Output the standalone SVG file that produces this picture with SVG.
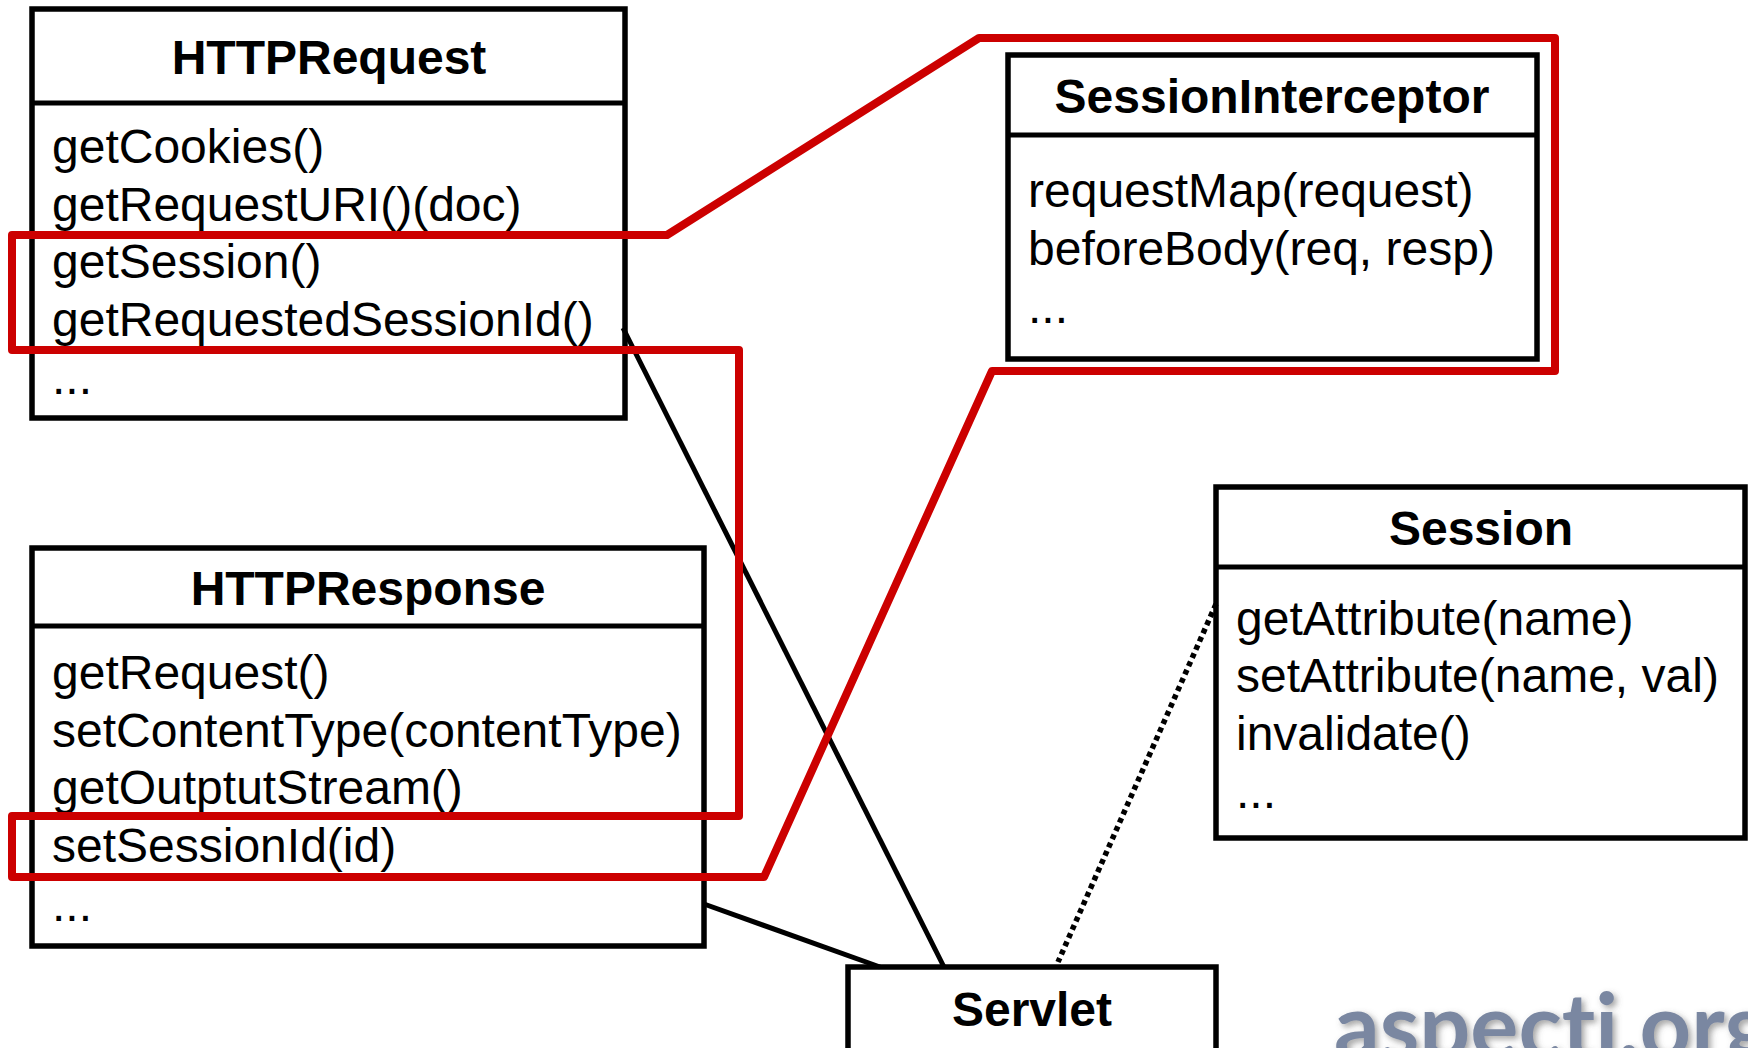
<svg xmlns="http://www.w3.org/2000/svg" width="1748" height="1048" viewBox="0 0 1748 1048">
<defs><filter id="sh" x="-5%" y="-20%" width="110%" height="140%"><feDropShadow dx="3" dy="3" stdDeviation="3" flood-color="#555" flood-opacity=".55"/></filter></defs>
<style>
text{font-family:"Liberation Sans",Arial,sans-serif;fill:#000}
.t{font-weight:700;font-size:48px;text-anchor:middle}
.m{font-size:48px}
.b{fill:#fff;stroke:#000;stroke-width:5.5}
.l{fill:none;stroke:#000;stroke-width:5}
.r{fill:none;stroke:#c00;stroke-width:8;stroke-linejoin:round}
.w{font-family:Lato,"Liberation Sans",sans-serif;font-size:90px;font-weight:700;fill:#7a87a1;font-variant-ligatures:none}
</style>
<rect width="1748" height="1048" fill="#fff"/>
<g id="HTTPRequest">
<rect class="b" x="32" y="9" width="593" height="409"/>
<line class="l" x1="32" y1="103" x2="625" y2="103"/>
<text class="t" x="329" y="74">HTTPRequest</text>
<text class="m" x="52" y="163">getCookies()</text>
<text class="m" x="52" y="221">getRequestURI()(doc)</text>
<text class="m" x="52" y="278">getSession()</text>
<text class="m" x="52" y="336">getRequestedSessionId()</text>
<text class="m" x="52" y="394">...</text>
</g>
<g id="HTTPResponse">
<rect class="b" x="32" y="548" width="672" height="398"/>
<line class="l" x1="32" y1="626" x2="704" y2="626"/>
<text class="t" x="368" y="605">HTTPResponse</text>
<text class="m" x="52" y="689">getRequest()</text>
<text class="m" x="52" y="747">setContentType(contentType)</text>
<text class="m" x="52" y="804">getOutptutStream()</text>
<text class="m" x="52" y="862">setSessionId(id)</text>
<text class="m" x="52" y="921">...</text>
</g>
<g id="SessionInterceptor">
<rect class="b" x="1008" y="55" width="529" height="304"/>
<line class="l" x1="1008" y1="135" x2="1537" y2="135"/>
<text class="t" x="1272" y="113">SessionInterceptor</text>
<text class="m" x="1028" y="207">requestMap(request)</text>
<text class="m" x="1028" y="265">beforeBody(req, resp)</text>
<text class="m" x="1028" y="323">...</text>
</g>
<g id="Session">
<rect class="b" x="1216" y="487" width="529" height="351"/>
<line class="l" x1="1216" y1="567" x2="1745" y2="567"/>
<text class="t" x="1481" y="545">Session</text>
<text class="m" x="1236" y="635">getAttribute(name)</text>
<text class="m" x="1236" y="692">setAttribute(name, val)</text>
<text class="m" x="1236" y="750">invalidate()</text>
<text class="m" x="1236" y="808">...</text>
</g>
<g id="Servlet">
<rect class="b" x="848" y="967" width="368" height="90"/>
<text class="t" x="1032" y="1026">Servlet</text>
</g>
<g id="connectors">
<path class="l" d="M623 328L944 967"/>
<path class="l" d="M704 904L880 967"/>
<path class="l" d="M1216 604L1058 962" stroke-dasharray="5 4" style="stroke-width:5.5"/>
<path class="r" d="M12 235H667L979 38H1555V371H992L764 877H12V816H739V350H12Z"/>
</g>
<text class="w" x="1334" y="1058" filter="url(#sh)">aspecti.org</text>
</svg>
